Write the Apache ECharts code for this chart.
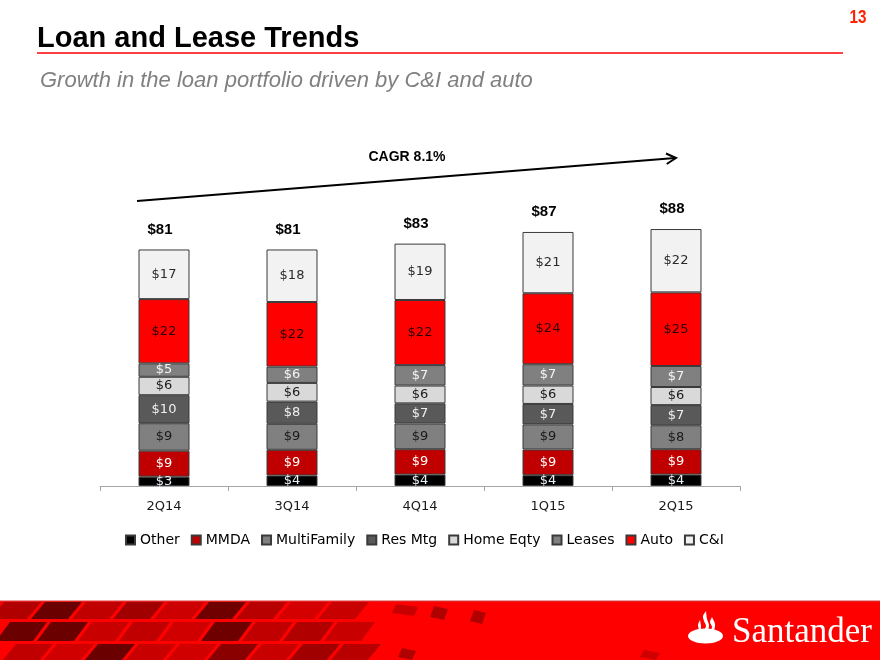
<!DOCTYPE html>
<html>
<head>
<meta charset="utf-8">
<script src="https://cdn.jsdelivr.net/npm/echarts@6/dist/echarts.min.js"></script>
<style>
html,body{margin:0;padding:0;background:#fff;}
#chart{width:880px;height:660px;}
</style>
</head>
<body>
<div id="chart"></div>
<script>
// ---- data ----
var categories = ['2Q14', '3Q14', '4Q14', '1Q15', '2Q15'];
var other       = [3.2, 3.6, 3.9, 3.7, 3.9];
var mmda        = [8.9, 8.8, 8.7, 8.8, 8.7];
var multiFamily = [9.4, 8.9, 8.8, 8.6, 8.2];
var resMtg      = [9.6, 7.6, 6.9, 7.0, 6.9];
var homeEqty    = [6.3, 6.4, 6.1, 6.3, 6.2];
var leases      = [4.6, 5.6, 7.0, 7.3, 7.2];
var auto        = [22.0, 22.1, 22.3, 24.3, 25.2];
var cAndI       = [17.0, 18.0, 19.3, 21.0, 21.7];
var totals      = [81, 81, 83, 87, 88];
var cagrLabel   = 'CAGR 8.1%';

var chart = echarts.init(document.getElementById('chart'), null, {renderer: 'canvas'});

var segFont = 'DejaVu Sans, Verdana, sans-serif';
function seg(name, data, color, labelColor) {
  return {
    name: name,
    type: 'bar',
    stack: 'loans',
    data: data,
    barWidth: 51,
    itemStyle: {color: color, borderColor: '#3a3a3a', borderWidth: 1},
    label: {
      show: true,
      position: 'inside',
      fontFamily: segFont,
      fontSize: 13,
      color: labelColor,
      formatter: function (p) { return '$' + Math.round(p.value); }
    }
  };
}

// banner tiles (decoration)
var bannerGraphics = [];
var rowDefs = [
  {y0: 602, y1: 619, shades: ['#b00000','#6a0000','#c00000','#a00000','#cc0000','#700000','#b80000','#d40000','#c80000']},
  {y0: 622, y1: 641, shades: ['#6a0000','#6a0000','#c80000','#c00000','#d00000','#6e0000','#c00000','#b00000','#c80000']},
  {y0: 644, y1: 661, shades: ['#c00000','#d00000','#6a0000','#c80000','#d00000','#8a0000','#c80000','#a00000','#b80000']}
];
rowDefs.forEach(function (r, ri) {
  for (var i = 0; i < r.shades.length; i++) {
    var x = -10 + i * 41 + ri * 6;
    var sk = 14;
    bannerGraphics.push({
      type: 'polygon',
      shape: {points: [[x + sk, r.y0], [x + sk + 37, r.y0], [x + 37, r.y1], [x, r.y1]]},
      style: {fill: r.shades[i]}
    });
  }
});
[[392, 604, 22, 12, '#c80000'], [430, 606, 14, 14, '#b00000'], [470, 610, 12, 14, '#b00000'], [398, 648, 14, 12, '#b00000'], [640, 650, 16, 10, '#d00000']].forEach(function (t) {
  bannerGraphics.push({
    type: 'polygon',
    shape: {points: [[t[0] + 4, t[1]], [t[0] + 4 + t[2], t[1] + 3], [t[0] + t[2], t[1] + t[3]], [t[0], t[1] + t[3] - 3]]},
    style: {fill: t[4]}
  });
});
// flame of logo (decoration)
bannerGraphics.push({type: 'polygon', shape: {points: [[706,611],[703,616],[704,621],[706,626],[704,631],[705,634],[708,630],[709,625],[707,619],[706,611]], smooth: 0.3}, style: {fill: '#ffffff'}});
bannerGraphics.push({type: 'polygon', shape: {points: [[712,617],[710,622],[712,627],[710,633],[714,630],[715,624],[712,617]], smooth: 0.3}, style: {fill: '#ffffff'}});
bannerGraphics.push({type: 'polygon', shape: {points: [[700,620],[698,625],[700,632],[701,627],[700,620]], smooth: 0.3}, style: {fill: '#ffffff'}});

var option = {
  animation: false,
  backgroundColor: '#ffffff',
  grid: {left: 100, right: 140, top: 194, bottom: 174, containLabel: false},
  legend: {
    data: ['Other', 'MMDA', 'MultiFamily', 'Res Mtg', 'Home Eqty', 'Leases', 'Auto', 'C&I'],
    left: 120,
    top: 528,
    icon: 'rect',
    itemWidth: 9,
    itemHeight: 9,
    itemGap: 11,
    textStyle: {fontFamily: segFont, fontSize: 14, color: '#000'}
  },
  xAxis: {
    type: 'category',
    data: categories,
    axisLine: {lineStyle: {color: '#a6a6a6', width: 1}},
    axisTick: {show: true, length: 5, lineStyle: {color: '#a6a6a6'}},
    axisLabel: {fontFamily: segFont, fontSize: 13, color: '#1a1a1a', margin: 14}
  },
  yAxis: {
    type: 'value', min: 0, max: 100, show: false, splitLine: {show: false}
  },
  series: [
    seg('Other', other, '#000000', '#e6eef8'),
    seg('MMDA', mmda, '#c00000', '#ffffff'),
    seg('MultiFamily', multiFamily, '#808080', '#1a1a1a'),
    seg('Res Mtg', resMtg, '#595959', '#f0f0f0'),
    seg('Home Eqty', homeEqty, '#d9d9d9', '#1a1a1a'),
    seg('Leases', leases, '#808080', '#f4f4f4'),
    seg('Auto', auto, '#ff0000', '#2a0000'),
    seg('C&I', cAndI, '#f2f2f2', '#2a2a2a'),
    {
      name: 'Total',
      type: 'line',
      data: totals,
      symbol: 'circle',
      symbolSize: 1,
      showSymbol: true,
      lineStyle: {opacity: 0},
      itemStyle: {color: 'rgba(0,0,0,0)'},
      silent: true,
      z: 10,
      label: {
        show: true,
        position: 'top',
        distance: 12,
        offset: [-4, 0],
        fontFamily: 'Liberation Sans, Arial, sans-serif',
        fontWeight: 'bold',
        fontSize: 15,
        color: '#000',
        formatter: function (p) { return '$' + p.value; }
      }
    }
  ],
  graphic: [
    {type: 'text', x: 37, y: 39, style: {text: 'Loan and Lease Trends', font: 'bold 29px "Liberation Sans", Arial, sans-serif', fill: '#000', textVerticalAlign: 'middle'}},
    {type: 'line', shape: {x1: 37, y1: 53, x2: 843, y2: 53}, style: {stroke: '#ff0000', lineWidth: 1.5}},
    {type: 'text', x: 858, y: 18, scaleX: 0.8, style: {text: '13', font: 'bold 19px "Liberation Sans", Arial, sans-serif', fill: '#ff2200', textAlign: 'center', textVerticalAlign: 'middle'}},
    {type: 'text', x: 40, y: 81, style: {text: 'Growth in the loan portfolio driven by C&I and auto', font: 'italic 22px "Liberation Sans", Arial, sans-serif', fill: '#808080', textVerticalAlign: 'middle'}},
    {type: 'text', x: 407, y: 157, style: {text: cagrLabel, font: 'bold 14px "Liberation Sans", Arial, sans-serif', fill: '#000', textAlign: 'center', textVerticalAlign: 'middle'}},
    {type: 'line', shape: {x1: 137, y1: 201, x2: 675, y2: 158}, style: {stroke: '#000', lineWidth: 2}},
    {type: 'polyline', shape: {points: [[666, 153.5], [676, 158], [666.7, 164]]}, style: {stroke: '#000', lineWidth: 2, fill: null}},
    {type: 'rect', shape: {x: 0, y: 601, width: 880, height: 59}, style: {fill: '#ff0000'}},
    {type: 'line', shape: {x1: 0, y1: 601, x2: 880, y2: 601}, style: {stroke: '#d04040', lineWidth: 1}},
    {type: 'group', children: bannerGraphics},
    {type: 'ellipse', shape: {cx: 705.5, cy: 636, rx: 17.5, ry: 7.5}, style: {fill: '#ffffff'}},
    {type: 'text', x: 732, y: 633, style: {text: 'Santander', font: '35px "Liberation Serif", "Times New Roman", serif', fill: '#ffffff', textVerticalAlign: 'middle'}}
  ]
};
chart.setOption(option);
</script>
</body>
</html>
